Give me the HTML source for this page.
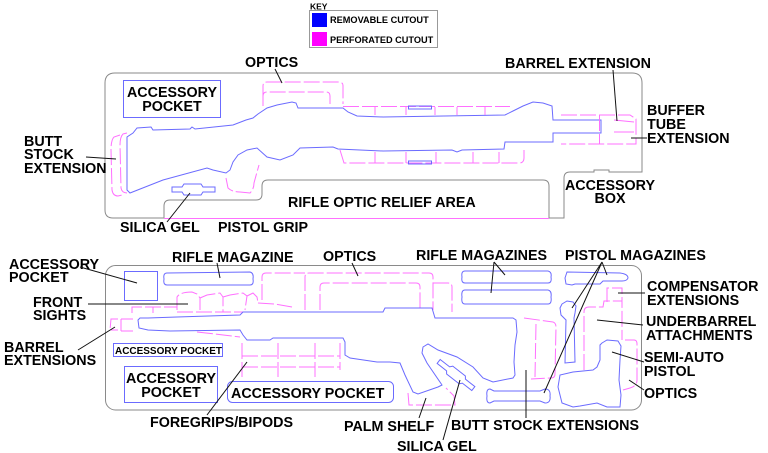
<!DOCTYPE html>
<html><head><meta charset="utf-8"><style>
html,body{margin:0;padding:0;background:#fff;}
svg{display:block}
text{font-family:"Liberation Sans",Arial,sans-serif;font-weight:bold;font-size:14.3px;fill:#000}
.b{fill:none;stroke:#6b6bff;stroke-width:1}
.m{fill:none;stroke:#ff70ff;stroke-width:1;stroke-dasharray:16 3}
.ms{fill:none;stroke:#ff70ff;stroke-width:1}
.g{fill:none;stroke:#8a8a8a;stroke-width:1}
.l{stroke:#111;stroke-width:1;fill:none}
</style></head><body>
<svg width="768" height="453" viewBox="0 0 768 453" xmlns="http://www.w3.org/2000/svg">
<!-- KEY -->
<text x="310" y="9.5" style="font-size:8.5px">KEY</text>
<rect x="309.5" y="10.5" width="128" height="37" fill="none" stroke="#999"/>
<rect x="312" y="13" width="15" height="14" fill="#0000ff"/>
<rect x="312" y="32" width="15" height="14" fill="#ff00ff"/>
<text x="330" y="23" style="font-size:9.2px">REMOVABLE CUTOUT</text>
<text x="330" y="43" style="font-size:9.2px">PERFORATED CUTOUT</text>

<!-- TOP PANEL -->
<path class="g" d="M105,83 Q105,73 115,73 L632,73 Q642,73 642,83 L642,172 L609,172 L609,170 L594,170 L594,172 L570,172 Q564,172 564,178 L564,218 L549,218 L549,186 Q549,180 543,180 L268,180 Q262,180 262,186 L262,194 Q262,200 256,200 L170,200 Q164,200 164,206 L164,218 L113,218 Q105,218 105,210 Z"/>
<path class="ms" d="M164,218.5 H549"/>

<rect class="b" x="123.5" y="80.5" width="97" height="37"/>
<text x="172" y="97" text-anchor="middle">ACCESSORY</text>
<text x="172" y="111" text-anchor="middle">POCKET</text>

<!-- top rifle -->
<path class="b" d="M127,137 L133,133 L137,128 L151,127 L153,130 L190,129 L192,127 L195,129 L233,125 L246,120 L253,118 L258,114 L267,108 L277,105 L292,102 L296,103 L298,108 L343,108 L348,112 L357,116 L383,117 L505,115 L513,111 L523,106 L533,102 L543,103 L552,106 L553,120 L601,120 L601,133 L553,133 L553,142 L505,142 L504,149 L462,150 L457,152 L452,150 L383,151 L338,149 L333,147 L300,148 L293,155 L280,160 L267,157 L257,148 L247,150 L238,155 L233,162 L230,170 L226,173 L213,170 L207,168 L163,180 L130,193 L127,190 Z"/>
<!-- butt stock extension magenta -->
<path class="m" d="M120,135 L114,137 Q111,140 111,150 L112,190 Q113,196 118,196 L122,195"/>
<path class="m" d="M127,133 L123,134 Q120,137 120,145 L121,188 Q122,193 127,193"/>
<!-- pistol grip magenta -->
<path class="m" d="M226,178 L228,188 Q232,192 240,192 L250,193 Q254,189 254,183 L257,172 L259,165"/>
<!-- optics -->
<path class="m" d="M263,100 L263,86 Q263,82 267,82 L339,82 Q343,82 343,86 L343,104"/>
<path class="m" d="M263,106 L263,96 Q263,92 267,92 L326,92 Q330,92 330,96 L330,104"/>
<!-- barrel magenta rows -->
<path class="m" d="M343,106.5 H510"/>
<path class="ms" d="M375,107 V115 M406,107 V115 M435,107 V115 M457,107 V115 M485,107 V115"/>
<path class="m" d="M340,150 L344,163 H519 Q524,163 524,158 V150"/>
<path class="ms" d="M375,152 V163 M406,152 V163 M436,152 V163 M473,152 V163 M499,152 V163"/>
<rect class="b" x="408.5" y="106" width="23" height="3"/>
<rect class="b" x="408.5" y="161" width="23" height="3"/>
<!-- buffer tube magenta -->
<path class="m" d="M561,115 H630 L636,119 V144 H561"/>
<path class="m" d="M599.5,115 V144"/>
<path class="ms" d="M614,120 L634,122 M614,132 H634"/>
<!-- silica gel top -->
<path class="b" d="M172,187 L182,187 L184,184 L201,184 L203,187 L215,187 L215,192 L203,192 L201,195 L184,195 L182,192 L172,192 Z"/>

<!-- top labels -->
<text x="245" y="67">OPTICS</text>
<path class="l" d="M275,69 L282,83"/>
<text x="24" y="146">BUTT</text>
<text x="24" y="159">STOCK</text>
<text x="24" y="173">EXTENSION</text>
<path class="l" d="M86,157 L116,159"/>
<text x="505" y="68">BARREL EXTENSION</text>
<path class="l" d="M613,70 L617,121"/>
<text x="647" y="115">BUFFER</text>
<text x="647" y="129">TUBE</text>
<text x="647" y="143">EXTENSION</text>
<path class="l" d="M631,138 H647"/>
<text x="610" y="190" text-anchor="middle">ACCESSORY</text>
<text x="610" y="203" text-anchor="middle">BOX</text>
<text x="288" y="207">RIFLE OPTIC RELIEF AREA</text>
<text x="120" y="232">SILICA GEL</text>
<path class="l" d="M190,193 L167,222"/>
<text x="218" y="232">PISTOL GRIP</text>

<!-- BOTTOM PANEL -->
<rect class="g" x="105.5" y="265.5" width="536" height="144.5" rx="10"/>
<rect class="b" x="124.5" y="271.5" width="33" height="29"/>
<path class="b" d="M167,273 L250,272 Q254,273 253,279 Q254,285 250,285 L167,285 Q163,285 164,279 Q163,273 167,273 Z"/>
<!-- front sights -->
<path class="m" d="M177,310 L177,297 Q180,292 192,292 L197,294 L200,298 L200,310"/>
<path class="m" d="M200,298 L207,295 L220,293 L223,297 L223,312"/>
<path class="m" d="M223,297 L230,295 L243,293 L247,296 L245,310"/>
<path class="m" d="M247,296 L253,293 L257,297 L258,303"/>
<path class="m" d="M177,312 H258"/>
<path class="m" d="M132,313 L132,307 H177"/>
<path class="ms" d="M153,307 V313"/>
<path class="m" d="M258,303 L275,304 L292,307"/>
<!-- barrel extensions -->
<path class="m" d="M118,319 L111,319 L110,330 L118,330"/>
<path class="m" d="M121,319 H133 M121,331 H133 M121,319 V331"/>
<path class="m" d="M197,332 L215,334 L240,337"/>
<!-- optics bottom -->
<path class="m" d="M262,300 L262,277 Q262,273 266,273 L305,273"/>
<path class="m" d="M305,310 L305,277 Q305,273 309,273 L429,273 Q433,273 433,277 L433,310"/>
<path class="m" d="M320,310 L320,287 Q320,283 324,283 L416,283 Q420,283 420,287 L420,310"/>
<path class="m" d="M433,283 L448,283 Q452,283 452,287 L452,312"/>
<!-- bottom rifle -->
<path class="b" d="M138,320 L140,318 L148,318 L177,317 L240,315 L243,312 L383,312 L385,308 L432,308 L435,318 L513,318 L516,320 L517,332 L515,345 L514,362 L515,375 L513,378 L493,382 L483,378 L473,367 L457,357 L438,350 L428,344 L423,347 L422,353 L427,363 L442,385 L438,387 L418,394 L413,392 L405,375 L400,363 L390,362 L377,362 L350,358 L345,355 L345,342 L343,338 L273,338 L270,340 L247,340 L243,335 L240,330 L170,331 L148,330 L139,328 Z"/>
<!-- foregrips grid -->
<path class="m" d="M242,343 V377 M278,343 V377 M315,343 V377 M340,343 V370"/>
<path class="m" d="M242,356 H340 M242,367 H340"/>
<!-- palm shelf -->
<path class="m" d="M408,393 L409,405 L455,405 L454,396 L446,388"/>
<!-- silica gel bottom -->
<g transform="translate(456,375) rotate(38)"><path class="b" d="M-22,-2.5 L-10,-2.5 L-8,-5 L8,-5 L10,-2.5 L22,-2.5 L22,2.5 L10,2.5 L8,5 L-8,5 L-10,2.5 L-22,2.5 Z"/></g>
<!-- butt stock extensions -->
<path class="m" d="M524,318 L553,322 Q556,323 556,327 L555,374 Q555,378 551,378 L531,379"/>
<path class="m" d="M536,324 L535,377"/>
<!-- rifle magazines -->
<path class="b" d="M465,271 L548,271 Q552,272 551,277 Q552,283 548,283 L465,283 Q461,283 462,277 Q461,271 465,271 Z"/>
<path class="b" d="M465,290 L548,290 Q552,291 551,297 Q552,304 548,304 L465,304 Q461,304 462,297 Q461,290 465,290 Z"/>
<!-- pistol mags -->
<path class="b" d="M567,272 L620,273 Q628,274 628,278 Q627,281 622,281 L603,281 L600,284 L575,284 L572,285 L566,284 L565,278 Z"/>
<path class="b" d="M562,304 L567,301 L573,302 L576,306 L575,313 L574,318 L575,362 L565,363 L566,320 L561,315 L560,308 Z"/>
<path class="b" d="M490,389 L494,391 L540,391 L545,389 Q551,389 550,396 Q551,403 545,403 L540,401 L494,401 L490,403 Q486,403 487,396 Q486,389 490,389 Z"/>
<!-- compensator -->
<path class="m" d="M607,302 L607,288 H622 V302"/>
<!-- underbarrel -->
<path class="m" d="M584,370 L584,312 Q584,307 589,307 L603,307 L604,301 L622,301 L622,340"/>
<!-- semi-auto pistol -->
<path class="b" d="M602,343 L607,340 L618,341 L621,346 L620,360 L619,380 L621,395 L620,407 L607,407 L597,403 L580,406 L573,407 L562,403 L558,387 L560,375 L573,372 L593,370 L597,367 L600,360 L600,345 Z"/>
<!-- optics right -->
<path class="m" d="M625,340 L634,340 Q637,340 637,344 L637,380 Q637,386 630,388 L623,390"/>

<!-- accessory pockets -->
<rect class="b" x="113.5" y="343.5" width="109" height="13"/>
<text x="115" y="354" style="font-size:10.5px" textLength="107" lengthAdjust="spacingAndGlyphs">ACCESSORY POCKET</text>
<rect class="b" x="124.5" y="366.5" width="93" height="36"/>
<text x="171" y="383" text-anchor="middle">ACCESSORY</text>
<text x="171" y="397" text-anchor="middle">POCKET</text>
<rect class="b" x="227.5" y="381.5" width="166" height="21" rx="5"/>
<text x="231" y="398">ACCESSORY POCKET</text>

<!-- bottom labels -->
<text x="9" y="269">ACCESSORY</text>
<text x="9" y="282">POCKET</text>
<path class="l" d="M80,267 L137,283"/>
<text x="172" y="262">RIFLE MAGAZINE</text>
<path class="l" d="M217,263 L220,278"/>
<text x="323" y="261">OPTICS</text>
<path class="l" d="M352,263 L358,276"/>
<text x="416" y="260">RIFLE MAGAZINES</text>
<path class="l" d="M494,262 L505,275 M494,262 L491,293"/>
<text x="565" y="260">PISTOL MAGAZINES</text>
<path class="l" d="M602,262 L607,275 M602,262 L572,308 M602,262 L544,393"/>
<text x="33" y="307">FRONT</text>
<text x="33" y="320">SIGHTS</text>
<path class="l" d="M88,304 H188"/>
<text x="647" y="291">COMPENSATOR</text>
<text x="647" y="305">EXTENSIONS</text>
<path class="l" d="M618,293 H645"/>
<text x="646" y="326">UNDERBARREL</text>
<text x="646" y="340">ATTACHMENTS</text>
<path class="l" d="M597,320 L643,325"/>
<text x="4" y="352">BARREL</text>
<text x="4" y="365">EXTENSIONS</text>
<path class="l" d="M78,350 L115,327"/>
<text x="644" y="362">SEMI-AUTO</text>
<text x="644" y="376">PISTOL</text>
<path class="l" d="M612,352 L644,362"/>
<text x="644" y="398">OPTICS</text>
<path class="l" d="M629,380 L644,390"/>
<text x="150" y="427">FOREGRIPS/BIPODS</text>
<path class="l" d="M207,415 L247,362"/>
<text x="344" y="431">PALM SHELF</text>
<path class="l" d="M426,398 L419,418"/>
<text x="451" y="430">BUTT STOCK EXTENSIONS</text>
<path class="l" d="M526,370 V418"/>
<text x="397" y="451">SILICA GEL</text>
<path class="l" d="M460,380 L443,440"/>
</svg>
</body></html>
